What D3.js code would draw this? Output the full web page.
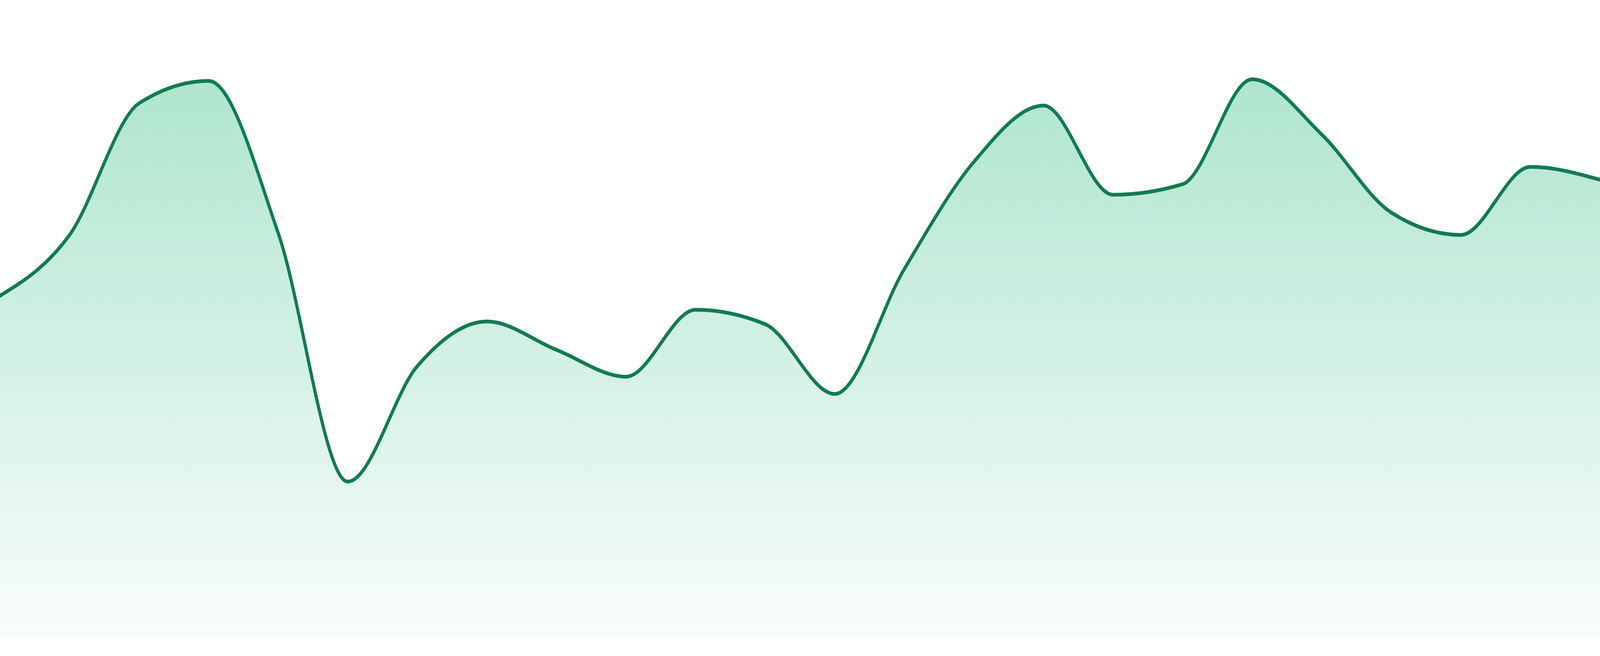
<!DOCTYPE html>
<html>
<head>
<meta charset="utf-8">
<script src="https://cdn.jsdelivr.net/npm/d3@7"></script>
<style>
  html, body { margin: 0; padding: 0; background: #fff; overflow: hidden; }
  #area-chart { width: 100vw; height: 100vh; }
  svg { display: block; width: 100%; height: 100%; }
</style>
</head>
<body>
<div id="area-chart"></div>
<script>
// one value per step, left to right
const steps = d3.range(24);
const values = [61.2, 72.1, 95.7, 99.7, 72.4, 27.9, 48.6, 56.6, 51.5, 46.7, 58.7, 56.1,
                43.6, 66.0, 85.2, 95.3, 79.3, 81.2, 100, 90.1, 76.1, 72.1, 84.3, 82.0];
const valueDomain = [0, 100];

// drawing space; the viewBox stretches it over the whole window
const chartWidth = 4800;
const chartHeight = 1680;
const plotTop = 203;
const plotBottom = 1632;

const data = steps.map((s, i) => ({ step: s, value: values[i] }));

const svg = d3.select('#area-chart')
  .append('svg')
  .attr('viewBox', `0 0 ${chartWidth} ${chartHeight}`)
  .attr('preserveAspectRatio', 'none');

const x = d3.scaleLinear()
  .domain(d3.extent(steps))
  .range([0, chartWidth]);

const y = d3.scaleLinear()
  .domain(valueDomain)
  .range([plotBottom, plotTop]);

// soft green fade under the line
const grad = svg.append('defs')
  .append('linearGradient')
  .attr('id', 'fill-fade')
  .attr('gradientUnits', 'userSpaceOnUse')
  .attr('x1', 0).attr('x2', 0)
  .attr('y1', y(valueDomain[1])).attr('y2', y(valueDomain[0]));

grad.append('stop').attr('offset', 0)
  .attr('stop-color', '#1ab576').attr('stop-opacity', 0.35);
grad.append('stop').attr('offset', 1)
  .attr('stop-color', '#1ab576').attr('stop-opacity', 0.03);

const area = d3.area()
  .x(d => x(d.step))
  .y0(y(valueDomain[0]))
  .y1(d => y(d.value))
  .curve(d3.curveMonotoneX);

const line = d3.line()
  .x(d => x(d.step))
  .y(d => y(d.value))
  .curve(d3.curveMonotoneX);

svg.append('path')
  .datum(data)
  .attr('d', area)
  .attr('fill', 'url(#fill-fade)');

svg.append('path')
  .datum(data)
  .attr('d', line)
  .attr('fill', 'none')
  .attr('stroke', '#127b51')
  .attr('stroke-width', 9.5)
  .attr('stroke-linejoin', 'round')
  .attr('stroke-linecap', 'round');
</script>
</body>
</html>
